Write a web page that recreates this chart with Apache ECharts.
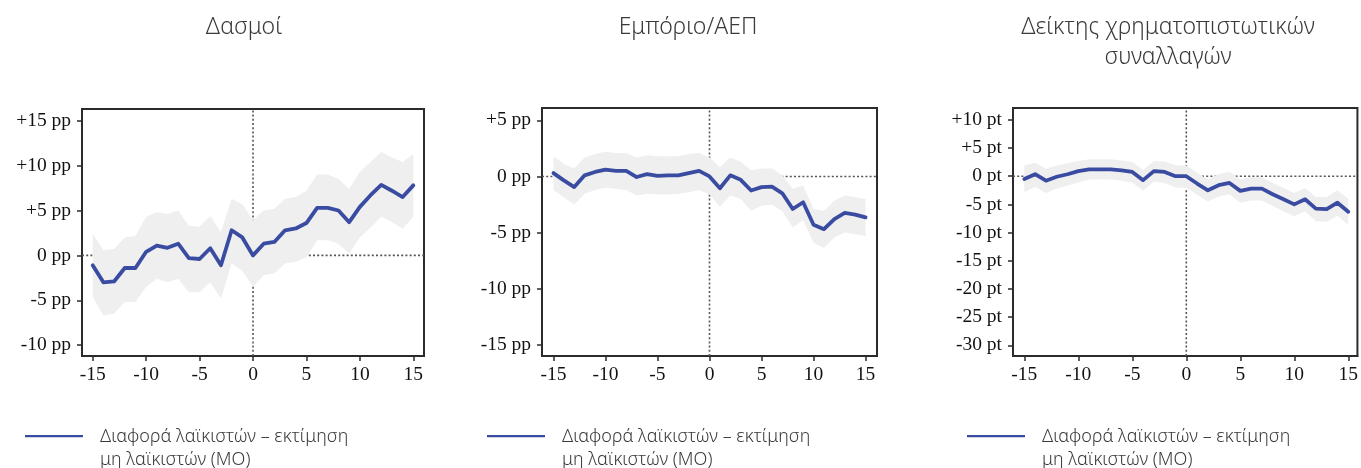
<!DOCTYPE html>
<html>
<head>
<meta charset="utf-8">
<script src="https://cdn.jsdelivr.net/npm/echarts@6/dist/echarts.min.js"></script>
<style>
html,body{margin:0;padding:0;background:#fff;}
#chart{width:1361px;height:468px;}
</style>
</head>
<body>
<div id="chart"></div>
<script>
// ---- Data ----
const periods = [-15,-14,-13,-12,-11,-10,-9,-8,-7,-6,-5,-4,-3,-2,-1,0,1,2,3,4,5,6,7,8,9,10,11,12,13,14,15];

const titles = ['Δασμοί', 'Εμπόριο/ΑΕΠ', 'Δείκτης χρηματοπιστωτικών\nσυναλλαγών'];
const seriesName = 'Διαφορά λαϊκιστών – εκτίμηση\nμη λαϊκιστών (ΜΟ)';

// Panel 1: Tariffs (pp)
const tariffMean  = [-1.1,-3.0,-2.9,-1.4,-1.4,0.4,1.1,0.85,1.3,-0.3,-0.4,0.8,-1.1,2.8,2.0,0.0,1.3,1.5,2.8,3.0,3.6,5.3,5.3,5.0,3.7,5.4,6.7,7.85,7.2,6.5,7.8];
const tariffUpper = [2.4,0.6,0.7,2.0,2.2,4.3,4.8,4.6,5.0,3.3,3.2,4.4,2.6,6.3,5.7,3.9,5.0,5.2,6.3,6.5,7.2,9.0,9.0,8.5,7.4,9.3,10.4,11.5,10.9,10.4,11.3];
const tariffLower = [-4.6,-6.7,-6.5,-5.2,-5.2,-3.5,-2.6,-3.0,-2.6,-4.1,-4.1,-3.0,-4.8,-0.9,-1.7,-3.5,-2.2,-2.0,-0.9,-0.7,-0.2,1.7,1.7,1.3,0.2,2.0,3.1,4.3,3.7,3.0,4.3];

// Panel 2: Trade/GDP (pp)
const tradeMean  = [0.3,-0.35,-0.95,0.1,0.4,0.6,0.5,0.5,-0.05,0.2,0.05,0.1,0.1,0.3,0.5,0.0,-1.05,0.1,-0.3,-1.25,-0.95,-0.9,-1.5,-2.9,-2.3,-4.3,-4.7,-3.8,-3.25,-3.4,-3.65];
const tradeUpper = [1.8,1.1,0.7,1.7,2.0,2.2,2.1,2.1,1.7,1.9,1.8,1.8,1.8,2.0,2.1,1.7,0.85,1.7,1.3,0.55,0.7,0.7,0.1,-1.1,-0.8,-2.9,-3.05,-2.15,-1.7,-1.85,-2.0];
const tradeLower = [-1.2,-1.85,-2.5,-1.55,-1.2,-1.0,-1.1,-1.2,-1.7,-1.55,-1.6,-1.6,-1.55,-1.4,-1.2,-1.6,-2.7,-1.7,-2.0,-3.05,-2.6,-2.5,-3.1,-4.55,-3.9,-5.9,-6.35,-5.45,-5.0,-5.15,-5.3];

// Panel 3: Financial transactions index (pt)
const finMean  = [-0.5,0.35,-0.8,-0.1,0.35,0.9,1.2,1.2,1.2,1.05,0.75,-0.7,0.9,0.75,0.0,0.0,-1.3,-2.5,-1.6,-1.2,-2.6,-2.2,-2.2,-3.2,-4.1,-5.0,-4.1,-5.75,-5.85,-4.7,-6.3];
const finUpper = [1.9,2.4,1.3,1.9,2.3,2.7,3.0,3.0,3.0,2.8,2.5,1.1,2.7,2.6,1.9,1.9,0.6,-0.6,0.4,0.8,-0.6,-0.2,-0.2,-1.2,-2.1,-3.0,-2.1,-3.7,-3.7,-2.5,-4.0];
const finLower = [-2.8,-1.9,-3.0,-2.2,-1.7,-1.1,-0.6,-0.6,-0.6,-0.8,-1.1,-2.6,-1.0,-1.2,-2.0,-2.1,-3.3,-4.5,-3.6,-3.2,-4.7,-4.3,-4.3,-5.3,-6.2,-7.1,-6.2,-8.0,-8.1,-7.0,-8.6];

// Tick labels
const xTicks  = [-15,-10,-5,0,5,10,15];
const yTicks1 = [-10,-5,0,5,10,15];
const yTicks2 = [-15,-10,-5,0,5];
const yTicks3 = [-30,-25,-20,-15,-10,-5,0,5,10];
const units = ['pp','pp','pt'];

// ---- Layout ----
const panels = [
  {mean: tariffMean, upper: tariffUpper, lower: tariffLower, yTicks: yTicks1, unit: units[0],
   grid: {left: 82, top: 109, width: 342, height: 247}, yMin: -11.2, yMax: 16.3, xMin: -16, xMax: 16,
   titleX: 244, legendX: 25},
  {mean: tradeMean, upper: tradeUpper, lower: tradeLower, yTicks: yTicks2, unit: units[1],
   grid: {left: 542, top: 108, width: 335, height: 248}, yMin: -16, yMax: 6.1, xMin: -16.1, xMax: 16.1,
   titleX: 688, legendX: 487},
  {mean: finMean, upper: finUpper, lower: finLower, yTicks: yTicks3, unit: units[2],
   grid: {left: 1013, top: 108, width: 346, height: 248}, yMin: -31.9, yMax: 12.1, xMin: -16.05, xMax: 15.85,
   titleX: 1168, legendX: 967}
];

const LINE_COLOR = '#3a4ca1';
const BAND_COLOR = '#efefef';
const DOT_COLOR = '#555555';
const AXIS_COLOR = '#2b2b2b';
const serifFont = '"Liberation Serif", "DejaVu Serif", serif';
const sansFont = '"Noto Sans", "Open Sans", sans-serif';

const grids = [], xAxes = [], yAxes = [], series = [], graphics = [];

panels.forEach((p, i) => {
  grids.push(Object.assign({show: true, borderColor: AXIS_COLOR, borderWidth: 2, backgroundColor: 'transparent'}, p.grid));
  xAxes.push({
    type: 'value', gridIndex: i, min: p.xMin, max: p.xMax,
    splitLine: {show: false},
    axisLine: {show: true, onZero: false, lineStyle: {color: AXIS_COLOR, width: 2}},
    axisTick: {show: true, length: 5, customValues: xTicks, lineStyle: {color: AXIS_COLOR, width: 1.5}},
    axisLabel: {customValues: xTicks, color: '#111', fontFamily: serifFont, fontSize: 19.5, margin: 9}
  });
  yAxes.push({
    type: 'value', gridIndex: i, min: p.yMin, max: p.yMax,
    splitLine: {show: false},
    axisLine: {show: true, onZero: false, lineStyle: {color: AXIS_COLOR, width: 2}},
    axisTick: {show: true, length: 5, customValues: p.yTicks, lineStyle: {color: AXIS_COLOR, width: 1.5}},
    axisLabel: {customValues: p.yTicks, color: '#111', fontFamily: serifFont, fontSize: 19.5, margin: 11,
      formatter: v => (v > 0 ? '+' + v : '' + v) + ' ' + p.unit}
  });

  // dotted reference lines at x = 0 and y = 0
  series.push({
    type: 'line', xAxisIndex: i, yAxisIndex: i, z: 1, silent: true, symbol: 'none',
    data: [[0, p.yMin], [0, p.yMax]],
    lineStyle: {color: DOT_COLOR, width: 1.6, type: [2, 2.2]}
  });
  series.push({
    type: 'line', xAxisIndex: i, yAxisIndex: i, z: 1, silent: true, symbol: 'none',
    data: [[p.xMin, 0], [p.xMax, 0]],
    lineStyle: {color: DOT_COLOR, width: 1.6, type: [2, 2.2]}
  });

  // confidence band
  const up = p.upper, lo = p.lower;
  series.push({
    type: 'custom', xAxisIndex: i, yAxisIndex: i, z: 2, silent: true,
    data: periods.map((x, k) => [x, up[k], lo[k]]),
    encode: {x: 0, y: [1, 2]},
    renderItem: function (params, api) {
      if (params.dataIndex !== 0) return null;
      const pts = [];
      for (let k = 0; k < periods.length; k++) pts.push(api.coord([periods[k], up[k]]));
      for (let k = periods.length - 1; k >= 0; k--) pts.push(api.coord([periods[k], lo[k]]));
      return {type: 'polygon', shape: {points: pts}, style: {fill: BAND_COLOR}};
    }
  });

  // mean difference line
  series.push({
    name: seriesName, type: 'line', xAxisIndex: i, yAxisIndex: i, z: 3,
    symbol: 'none', data: periods.map((x, k) => [x, p.mean[k]]),
    lineStyle: {color: LINE_COLOR, width: 3.8, join: 'round', cap: 'round'},
    itemStyle: {color: LINE_COLOR}
  });

  // title
  graphics.push({
    type: 'text', x: p.titleX, y: 12,
    style: {text: titles[i], fill: '#3a3a3a', font: '300 23px ' + sansFont,
      textAlign: 'center', textVerticalAlign: 'top', lineHeight: 30}
  });
  // legend
  graphics.push({
    type: 'rect', shape: {x: p.legendX, y: 435, width: 58, height: 2.2},
    style: {fill: LINE_COLOR}
  });
  graphics.push({
    type: 'text', x: p.legendX + 75, y: 425,
    style: {text: seriesName, fill: '#3a3a3a', font: '300 18px ' + sansFont,
      textAlign: 'left', textVerticalAlign: 'top', lineHeight: 23}
  });
});

const chart = echarts.init(document.getElementById('chart'), null, {renderer: 'canvas'});
chart.setOption({
  animation: false,
  backgroundColor: '#ffffff',
  grid: grids, xAxis: xAxes, yAxis: yAxes, series: series,
  graphic: graphics
});
</script>
</body>
</html>
